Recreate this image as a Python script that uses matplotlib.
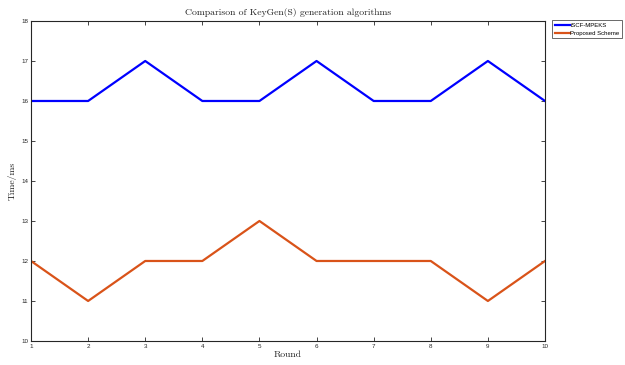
import matplotlib
matplotlib.use("Agg")
import matplotlib.pyplot as plt

rounds = [1, 2, 3, 4, 5, 6, 7, 8, 9, 10]
iscf_mpeks = [16, 16, 17, 16, 16, 17, 16, 16, 17, 16]
proposed = [12, 11, 12, 12, 13, 12, 12, 12, 11, 12]
yticks = [10, 11, 12, 13, 14, 15, 16, 17, 18]

plt.rcParams['font.family'] = ['Liberation Sans', 'DejaVu Sans']

fig = plt.figure(figsize=(6.25, 3.65), dpi=100)
ax = fig.add_axes([0.0496, 0.0658, 0.8224, 0.8767])

ax.plot(rounds, iscf_mpeks, color='#0000ff', lw=1.6, label='iSCF-MPEKS')
ax.plot(rounds, proposed, color='#d95319', lw=1.6, label='Proposed Scheme')

ax.set_xlim(1, 10)
ax.set_ylim(10, 18)
ax.set_xticks(rounds)
ax.set_yticks(yticks)
ax.tick_params(direction='in', top=True, right=True, labelsize=4.5, length=3,
               width=0.6, colors='#262626', pad=2)
for s in ax.spines.values():
    s.set_linewidth(0.8)
    s.set_color('#262626')

serif = dict(family='cmr10', color='#262626')
ax.set_title('Comparison of KeyGen(S) generation algorithms', fontsize=7, pad=4, **serif)
ax.set_xlabel('Round', fontsize=7, labelpad=1, **serif)
ax.set_ylabel('Time/ms', fontsize=7, labelpad=3, **serif)

leg = ax.legend(loc='upper left', bbox_to_anchor=(1.014, 1.003), fontsize=4.3,
                frameon=True, fancybox=False, borderpad=0.4, handlelength=2.6,
                handletextpad=0.05, labelspacing=0.5, borderaxespad=0)
leg.get_frame().set_edgecolor('#262626')
leg.get_frame().set_linewidth(0.6)

fig.savefig('out.png', dpi=100)
